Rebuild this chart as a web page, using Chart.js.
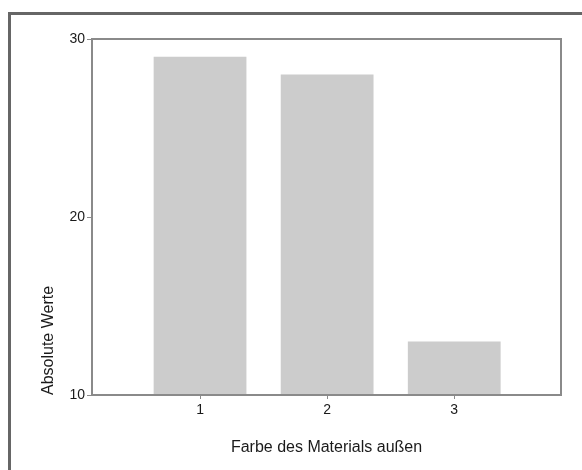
<!DOCTYPE html>
<html>
<head>
<meta charset="utf-8">
<script src="https://cdn.jsdelivr.net/npm/chart.js@4/dist/chart.umd.min.js"></script>
<style>
  html, body { margin: 0; padding: 0; background: #fff; }
  #wrap { position: relative; width: 582px; height: 470px; overflow: hidden; }
  #frame { position: absolute; left: 8px; top: 12px; width: 620px; height: 520px;
           border-top: 3px solid #666; border-left: 3px solid #666; }
  #chart { position: absolute; left: 0; top: 0; }
</style>
</head>
<body>
<div id="wrap">
  <div id="frame"></div>
  <canvas id="chart" width="582" height="470"></canvas>
</div>
<script>
// Daten: Farbe des Materials außen
const categories = [1, 2, 3];
const absoluteValues = [29, 28, 13];
const yTicks = [10, 20, 30];

// Rahmen um die Zeichenfläche
const plotBorder = {
    id: 'plotBorder',
    afterDatasetsDraw(chart) {
        const { ctx, chartArea } = chart;
        ctx.save();
        ctx.strokeStyle = '#8a8a8a';
        ctx.lineWidth = 2;
        ctx.strokeRect(chartArea.left, chartArea.top, chartArea.right - chartArea.left, chartArea.bottom - chartArea.top);
        ctx.restore();
    }
};

const ctx = document.getElementById('chart').getContext('2d');
new Chart(ctx, {
    type: 'bar',
    data: {
        datasets: [{
            label: 'Absolute Werte',
            data: categories.map((c, i) => ({ x: c, y: absoluteValues[i] })),
            backgroundColor: '#cccccc',
            borderWidth: 0,
            barPercentage: 0.73,
            categoryPercentage: 1
        }]
    },
    options: {
        responsive: false,
        animation: false,
        layout: { padding: { left: 0, top: 39, right: 21, bottom: 0 } },
        plugins: {
            legend: { display: false },
            tooltip: { enabled: false }
        },
        scales: {
            x: {
                type: 'linear',
                offset: false,
                min: 0.15,
                max: 3.84,
                afterBuildTicks: (scale) => { scale.ticks = categories.map(v => ({ value: v })); },
                afterFit: (scale) => { scale.height = 75; },
                grid: { offset: false, drawOnChartArea: false, drawTicks: true, tickLength: 4, color: '#8a8a8a' },
                border: { display: false },
                ticks: { color: '#1a1a1a', font: { family: 'Liberation Sans, Arial', size: 14 }, padding: 3, maxRotation: 0 },
                title: {
                    display: true,
                    text: 'Farbe des Materials außen',
                    color: '#1a1a1a',
                    font: { family: 'Liberation Sans, Arial', size: 16 },
                    padding: { top: 0, bottom: 13 }
                }
            },
            y: {
                min: 10,
                max: 30,
                afterBuildTicks: (scale) => { scale.ticks = yTicks.map(v => ({ value: v })); },
                afterFit: (scale) => { scale.width = 92; },
                grid: { drawOnChartArea: false, drawTicks: true, tickLength: 5, color: '#8a8a8a' },
                border: { display: false },
                ticks: { color: '#1a1a1a', font: { family: 'Liberation Sans, Arial', size: 14 }, padding: 2 },
                title: {
                    display: true,
                    text: 'Absolute Werte',
                    align: 'start',
                    color: '#1a1a1a',
                    font: { family: 'Liberation Sans, Arial', size: 16 },
                    padding: { top: 39, bottom: 0 }
                }
            }
        }
    },
    plugins: [plotBorder]
});
</script>
</body>
</html>
